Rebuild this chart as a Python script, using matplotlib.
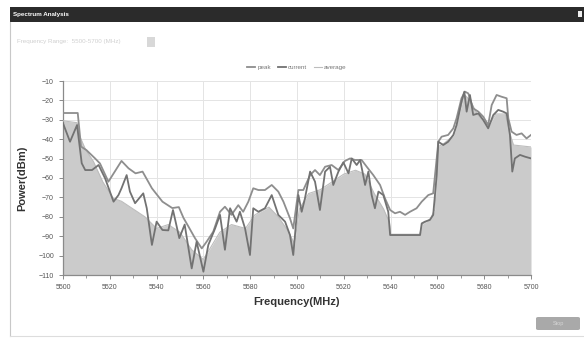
import matplotlib.pyplot as plt
from matplotlib.patches import Rectangle, FancyBboxPatch
from matplotlib.ticker import MultipleLocator

# spectrum sweep, 5500-5700 MHz
peak_freq = [5500, 5506.3, 5507.7, 5510, 5513.7, 5515.8, 5519.4, 5525, 5528, 5531, 5534,
             5538, 5542.5, 5546.7, 5549.5, 5551.5, 5553.6, 5556.4, 5559.3, 5561.4, 5564.2,
             5567.1, 5569.2, 5572, 5574.9, 5577, 5579.2, 5581.3, 5583.5, 5586.3, 5589.2,
             5592, 5594.2, 5597, 5598.4, 5600.6, 5602.7, 5605.6, 5607.7, 5609.8, 5612,
             5614.8, 5617.7, 5620.5, 5622.7, 5624.8, 5627.6, 5629.8, 5632.6, 5635.5, 5637.6,
             5639.8, 5641.9, 5644, 5646.2, 5648.3, 5651.1, 5653.3, 5656.1, 5658.2, 5659.7,
             5660.4, 5661.8, 5664.6, 5666.8, 5668.2, 5670.3, 5671.8, 5673.2, 5675.3, 5677.5,
             5679.6, 5681.7, 5683.2, 5685.3, 5687.4, 5689.6, 5690.3, 5691.7, 5693.8, 5696,
             5698.1, 5700]
peak_dbm = [-26.5, -26.5, -43.8, -45.6, -49.9, -52.5, -61.9, -51.2, -55, -57.6, -56.7,
            -65.3, -72.2, -75.5, -75, -80.6, -85, -91, -96.3, -92.8, -87.7,
            -77.4, -74.8, -79, -74, -77.4, -72.2, -65.3, -66.2, -66.2, -63.6,
            -67, -72.2, -80.8, -86, -66.2, -66.2, -58.5, -55.9, -58.5, -54.2,
            -53.3, -55.9, -51.2, -49.9, -50.7, -50.7, -54.2, -58.5, -63.6, -70.5,
            -76.5, -78.2, -77.4, -79, -77.4, -75.6, -72.2, -68.8, -67.9, -49.9,
            -41.3, -38.7, -37.8, -34.4, -29.2, -18.9, -15.5, -16.4, -24.1, -25.8,
            -28.4, -32.7, -22.4, -17.2, -18.1, -18.9, -29.2, -36.1, -37.8, -37,
            -39.6, -37.8]

current_freq = [5500, 5503, 5506, 5508, 5509.5, 5512.4, 5515.2, 5518, 5521.6, 5523.7, 5525,
                5527.2, 5528.6, 5530.8, 5534.3, 5535.8, 5538, 5540, 5542.5, 5545, 5547,
                5549.7, 5552, 5555, 5557.1, 5560, 5562.1, 5565, 5567.1, 5569.2, 5571.4,
                5574.2, 5575.6, 5577.8, 5579.9, 5581.3, 5583.5, 5586.3, 5589.2, 5592, 5594.9,
                5597, 5598.4, 5600.6, 5602, 5603.4, 5605.6, 5607.7, 5609.8, 5612, 5614.1,
                5615.5, 5617.7, 5619.8, 5622, 5623.4, 5625.5, 5627, 5629.1, 5630.5, 5631.9,
                5633.3, 5634.8, 5636.9, 5639, 5639.8, 5652.6, 5653.3, 5654.7, 5656.8, 5658.2,
                5659.7, 5660.4, 5662.5, 5664.6, 5666.8, 5668.2, 5670.3, 5671.5, 5672.5, 5673.9,
                5675.3, 5677.5, 5679.6, 5681.7, 5683.9, 5686, 5688.1, 5689.6, 5691, 5692,
                5693.1, 5695.3, 5697.4, 5700]
current_dbm = [-31.8, -41.3, -32.7, -52.4, -55.9, -55.9, -53.3, -60.2, -72.2, -68.8, -65.3,
               -58.5, -67, -73, -67.9, -75.6, -94.5, -82.5, -86.8, -87, -76.5,
               -91, -84, -106.6, -92.8, -108.3, -94.5, -86, -79, -97, -75.6,
               -82.5, -77.4, -86, -99.7, -75.6, -77.4, -75.6, -68.8, -79, -82.5,
               -89.4, -99.7, -68.8, -77.4, -70.5, -56.7, -61.9, -76.5, -56.7, -54.2,
               -63.6, -56.7, -51.9, -57.6, -49.9, -53.3, -50.7, -63.6, -56.7, -68.8,
               -75.6, -67, -68.8, -77.4, -89.4, -89.4, -83.4, -82.5, -81.6, -79,
               -58.5, -41.3, -43, -41.3, -37.8, -32.7, -20.7, -15.5, -25.8, -17.2,
               -27.5, -26.7, -30.1, -34.4, -27.5, -24.9, -25.8, -26.7, -37.8, -56.7,
               -49.9, -48.1, -49, -49.9]

average_freq = [5500, 5506, 5507, 5509.5, 5513, 5517, 5521.5, 5525, 5530, 5535, 5540,
                5545, 5550, 5555, 5560, 5563, 5567, 5572, 5578, 5582, 5588,
                5592, 5596, 5599, 5601, 5605, 5610, 5615, 5620, 5625, 5629,
                5633, 5637, 5639.5, 5640, 5652.5, 5653.5, 5657, 5659, 5660.2, 5663,
                5667, 5670, 5671.5, 5674, 5677, 5680, 5682, 5685, 5689, 5691,
                5692.5, 5700]
average_dbm = [-30.5, -31.5, -38, -45, -51.5, -62, -70.5, -72, -76, -80, -86,
               -84, -88, -97, -102, -96, -88, -84, -86, -79, -75,
               -80, -87, -94, -76, -68, -66, -62, -58, -56, -58,
               -68, -76, -83, -89, -89, -84, -81, -76, -44, -42,
               -38, -24, -17, -20, -27, -31, -33, -27, -27, -37,
               -43, -44]

x_ticks = [5500, 5520, 5540, 5560, 5580, 5600, 5620, 5640, 5660, 5680, 5700]
y_ticks = [-10, -20, -30, -40, -50, -60, -70, -80, -90, -100, -110]

fig = plt.figure(figsize=(5.84, 3.38), dpi=100)
fig.patch.set_facecolor('white')

# dialog frame: title bar, left border, bottom border
fig.patches.append(Rectangle((10 / 584, 1 - 22 / 338), 574 / 584, 15 / 338,
                             transform=fig.transFigure, facecolor='#2b2b2b',
                             edgecolor='none', zorder=0))
fig.text(13 / 584, 1 - 14.5 / 338, 'Spectrum Analysis', color='white', fontsize=4.5,
         fontweight='bold', va='center', ha='left', family='Liberation Sans')
fig.patches.append(Rectangle((578 / 584, 1 - 17 / 338), 4 / 584, 6 / 338,
                             transform=fig.transFigure, facecolor='#eeeeee',
                             edgecolor='none', zorder=1))
fig.lines.append(plt.Line2D([10 / 584, 10 / 584], [1 - 22 / 338, 1 - 336 / 338],
                            transform=fig.transFigure, color='#c8c8c8', lw=0.8))
fig.lines.append(plt.Line2D([10 / 584, 1], [1 - 336 / 338, 1 - 336 / 338],
                            transform=fig.transFigure, color='#dddddd', lw=0.8))

# frequency range selector
fig.text(17 / 584, 1 - 42 / 338, 'Frequency Range:  5500-5700 (MHz)', color='#d0d0d0',
         fontsize=4.5, va='center', ha='left', family='Liberation Sans')
fig.patches.append(Rectangle((147 / 584, 1 - 47 / 338), 8 / 584, 10 / 338,
                             transform=fig.transFigure, facecolor='#d8d8d8',
                             edgecolor='none'))

# stop button
fig.patches.append(FancyBboxPatch((536 / 584, 1 - 330 / 338), 44 / 584, 13 / 338,
                                  boxstyle='round,pad=0,rounding_size=0.004',
                                  transform=fig.transFigure, facecolor='#a9a9a9',
                                  edgecolor='none'))
fig.text(558 / 584, 1 - 323.5 / 338, 'Stop', color='#d6d6d6', fontsize=4,
         va='center', ha='center', family='Liberation Sans')

ax = fig.add_axes([63 / 584, 1 - 275 / 338, 468 / 584, 194 / 338])
ax.fill_between(average_freq, average_dbm, -110, color='#cbcbcb', lw=0, zorder=2)
ax.plot(average_freq, average_dbm, color='#bdbdbd', lw=0.8, zorder=3, label='average')
ax.plot(peak_freq, peak_dbm, color='#8e8e8e', lw=1.3, zorder=4, label='peak')
ax.plot(current_freq, current_dbm, color='#727272', lw=1.3, zorder=5, label='current')

ax.set_xlim(5500, 5700)
ax.set_ylim(-110, -10)
ax.set_xticks(x_ticks)
ax.xaxis.set_minor_locator(MultipleLocator(10))
ax.set_yticks(y_ticks)
ax.grid(True, which='major', color='#e4e4e4', lw=0.7, zorder=0)
for side in ['top', 'right']:
    ax.spines[side].set_visible(False)
for side in ['left', 'bottom']:
    ax.spines[side].set_color('#8a8a8a')
    ax.spines[side].set_linewidth(0.9)
ax.tick_params(axis='both', which='major', labelsize=5, colors='#8a8a8a',
               labelcolor='#555555', length=3, width=0.7)
ax.tick_params(axis='x', which='minor', colors='#8a8a8a', length=2, width=0.6)
for lbl in ax.get_xticklabels() + ax.get_yticklabels():
    lbl.set_family('Liberation Sans')

ax.set_xlabel('Frequency(MHz)', fontsize=8, fontweight='bold', color='#333333',
              family='Liberation Sans', labelpad=4)
ax.set_ylabel('Power(dBm)', fontsize=8, fontweight='bold', color='#333333',
              family='Liberation Sans', labelpad=8)

handles, labels = ax.get_legend_handles_labels()
order = [1, 2, 0]
leg = fig.legend([handles[i] for i in order], [labels[i] for i in order],
                 loc='center', bbox_to_anchor=(297 / 584, 1 - 67 / 338), ncol=3,
                 frameon=False, fontsize=4.5, handlelength=1.3, handletextpad=0.4,
                 columnspacing=1.0, prop={'family': 'Liberation Sans', 'size': 4.5})
for txt in leg.get_texts():
    txt.set_color('#777777')

fig.savefig('out.png', dpi=100)
